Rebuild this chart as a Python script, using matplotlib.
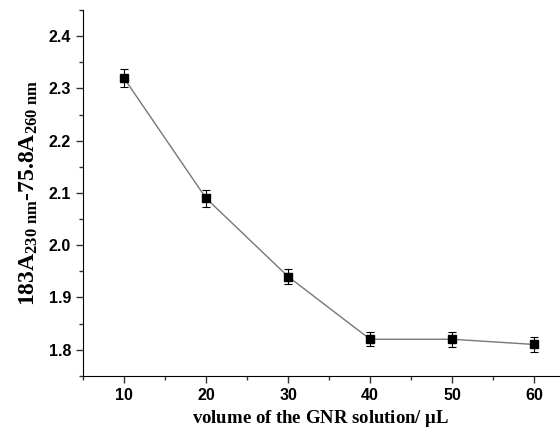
import matplotlib.pyplot as plt
from matplotlib.ticker import MultipleLocator

volume = [10, 20, 30, 40, 50, 60]
signal = [2.32, 2.09, 1.94, 1.82, 1.82, 1.81]
error = [0.018, 0.016, 0.015, 0.013, 0.014, 0.015]

def main():
    plt.rcParams['mathtext.fontset'] = 'custom'
    plt.rcParams['mathtext.rm'] = 'Liberation Serif:bold'
    plt.rcParams['mathtext.it'] = 'Liberation Serif:bold'

    fig = plt.figure(figsize=(5.6, 4.36), dpi=100)
    ax = fig.add_axes([0.148, 0.138, 0.85, 0.839])

    ax.errorbar(volume, signal, yerr=error, color='#777777', lw=1,
                marker='s', ms=6, mfc='black', mec='black',
                ecolor='black', elinewidth=0.8, capsize=3, capthick=0.8)

    ax.set_xlim(5, 63)
    ax.set_ylim(1.75, 2.45)
    ax.xaxis.set_major_locator(MultipleLocator(10))
    ax.xaxis.set_minor_locator(MultipleLocator(5))
    ax.yaxis.set_major_locator(MultipleLocator(0.1))
    ax.yaxis.set_minor_locator(MultipleLocator(0.05))

    ax.spines['top'].set_visible(False)
    ax.spines['right'].set_visible(False)
    ax.tick_params(which='both', direction='out', width=1, color='#333333')
    ax.tick_params(which='major', length=5)
    ax.tick_params(which='minor', length=3)
    for lab in ax.get_xticklabels() + ax.get_yticklabels():
        lab.set_fontfamily('Liberation Sans')
        lab.set_fontweight('bold')
        lab.set_fontsize(11.5)

    ax.set_xlabel(r'volume of the GNR solution/ $\mathregular{\mu}$L',
                  fontfamily='Liberation Serif', fontweight='bold', fontsize=13.5)
    ax.set_ylabel(r'183A$_{\mathregular{230\ nm}}$-75.8A$_{\mathregular{260\ nm}}$',
                  fontfamily='Liberation Serif', fontweight='bold', fontsize=17,
                  labelpad=6)

    plt.savefig('out.png', dpi=100)

main()
